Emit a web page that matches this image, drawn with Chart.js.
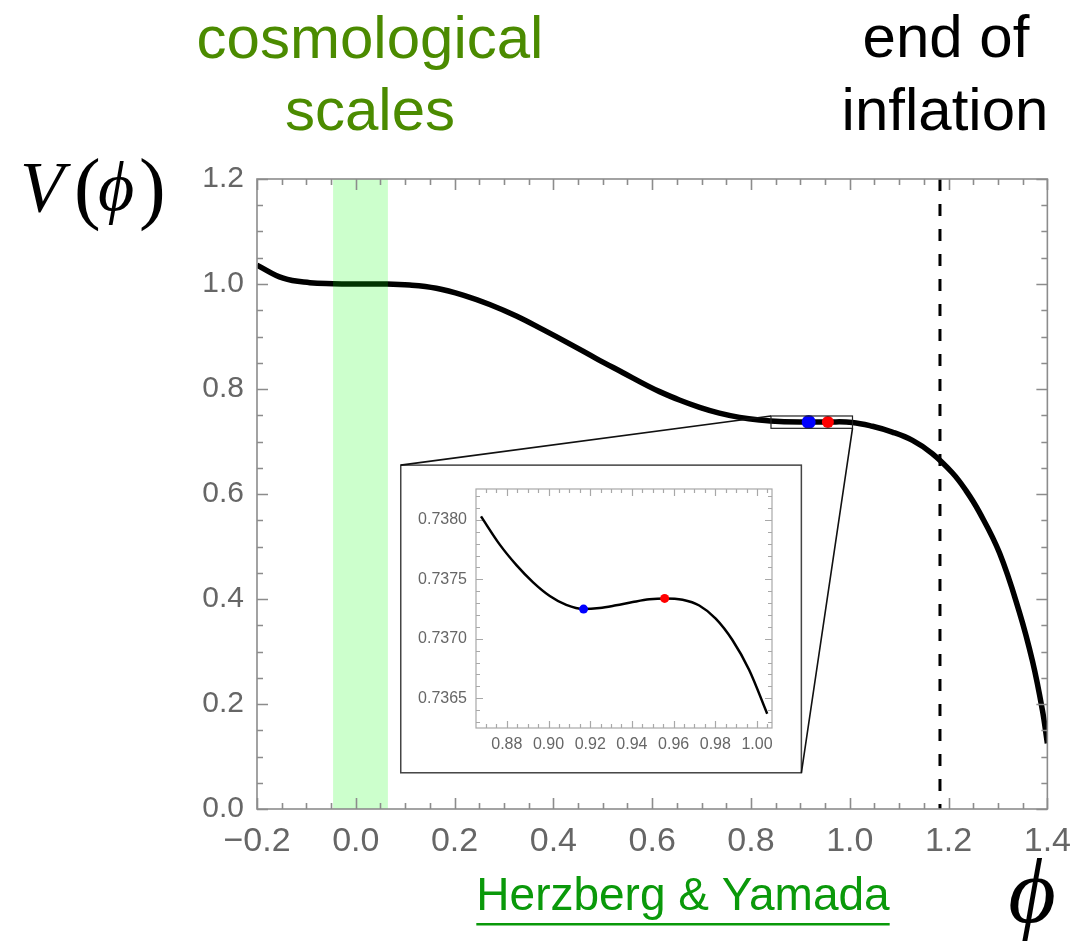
<!DOCTYPE html>
<html>
<head>
<meta charset="utf-8">
<script src="https://cdn.jsdelivr.net/npm/chart.js@4.4.0/dist/chart.umd.min.js"></script>
<style>
  html, body { margin: 0; padding: 0; background: #fff; }
  #wrap { position: relative; width: 1083px; height: 945px; overflow: hidden; }
  #main { position: absolute; left: 0; top: 0; }
  #inset { position: absolute; }
</style>
</head>
<body>
<div id="wrap">
  <canvas id="main" width="1083" height="945"></canvas>
  <canvas id="inset"></canvas>
</div>
<script>
// potential V(phi), full range
var phi = [-0.2, -0.147, -0.093, -0.046, 0.0, 0.055, 0.109, 0.163, 0.217, 0.271, 0.325, 0.379,
  0.433, 0.487, 0.541, 0.591, 0.615, 0.655, 0.696, 0.736, 0.777, 0.817, 0.858, 0.918, 0.955,
  1.005, 1.046, 1.086, 1.127, 1.167, 1.208, 1.235, 1.262, 1.303, 1.343, 1.370, 1.390, 1.400];
var potential = [1.036, 1.011, 1.0025, 1.0006, 1.0, 1.0, 0.998, 0.992, 0.979, 0.961, 0.939, 0.913,
  0.886, 0.858, 0.831, 0.806, 0.795, 0.779, 0.765, 0.754, 0.746, 0.741, 0.738, 0.7373, 0.7373,
  0.7364, 0.729, 0.718, 0.702, 0.677, 0.640, 0.607, 0.566, 0.488, 0.376, 0.281, 0.188, 0.125];

// zoomed-in part near the inflection point
var insetPhi = [0.8676, 0.8767, 0.8846, 0.8926, 0.9006, 0.9085, 0.9168, 0.9245, 0.9324, 0.9404,
  0.9484, 0.9557, 0.9643, 0.9723, 0.9802, 0.9882, 0.9962, 1.0049];
var insetPotential = [0.73803, 0.73779, 0.73762, 0.737475, 0.73736, 0.737285, 0.73725, 0.737259,
  0.737282, 0.737309, 0.737332, 0.73734, 0.737328, 0.73728, 0.73717, 0.73699, 0.73674, 0.73637];

// local minimum (blue) and local maximum (red)
var minimumPoint = { phi: 0.9168, v: 0.73725 };
var maximumPoint = { phi: 0.9557, v: 0.73734 };

var endOfInflation = 1.1826;
var cosmologicalScales = [-0.046, 0.065];

var xTicks = [-0.2, 0.0, 0.2, 0.4, 0.6, 0.8, 1.0, 1.2, 1.4];
var yTicks = [0.0, 0.2, 0.4, 0.6, 0.8, 1.0, 1.2];
var insetXTicks = [0.88, 0.90, 0.92, 0.94, 0.96, 0.98, 1.00];
var insetYTicks = [0.7365, 0.7370, 0.7375, 0.7380];

// zoom window marked on the main plot, and where the inset box sits (main axes units)
var zoomWindow = { x0: 0.8405, x1: 1.0055, y0: 0.7251, y1: 0.7486 };
var insetBox = { x0: 0.091, x1: 0.902, y0: 0.655, y1: 0.069 };

var GRAY = '#666666';
var SANS = '"Liberation Sans", Arial, sans-serif';
var SERIF = '"Liberation Serif", "DejaVu Serif", serif';

function pairs(xs, ys) {
  return xs.map(function (x, i) { return { x: x, y: ys[i] }; });
}

function fixedTicks(values) {
  return function (scale) {
    scale.ticks = values.map(function (v) { return { value: v }; });
  };
}

function steps(min, max, step) {
  var out = [];
  for (var k = Math.ceil(min / step - 1e-9); k * step <= max + 1e-9; k++) out.push(k * step);
  return out;
}

// Mathematica-style frame: box with inward major/minor ticks on all four sides
function drawFrame(chart, o) {
  var ctx = chart.ctx, a = chart.chartArea, xs = chart.scales.x, ys = chart.scales.y;
  ctx.save();
  ctx.strokeStyle = o.color;
  ctx.lineWidth = o.width;
  ctx.strokeRect(a.left, a.top, a.right - a.left, a.bottom - a.top);
  ctx.beginPath();
  steps(xs.min, xs.max, o.xMinor).forEach(function (v) {
    var r = v / o.xMajor, len = Math.abs(r - Math.round(r)) < 1e-4 ? o.major : o.minor;
    var px = Math.round(xs.getPixelForValue(v)) + 0.5;
    ctx.moveTo(px, a.bottom); ctx.lineTo(px, a.bottom - len);
    ctx.moveTo(px, a.top); ctx.lineTo(px, a.top + len);
  });
  steps(ys.min, ys.max, o.yMinor).forEach(function (v) {
    var r = v / o.yMajor, len = Math.abs(r - Math.round(r)) < 1e-4 ? o.major : o.minor;
    var py = Math.round(ys.getPixelForValue(v)) + 0.5;
    ctx.moveTo(a.left, py); ctx.lineTo(a.left + len, py);
    ctx.moveTo(a.right, py); ctx.lineTo(a.right - len, py);
  });
  ctx.stroke();
  ctx.restore();
}

var mainDecor = {
  id: 'mainDecor',
  afterDatasetsDraw: function (chart) {
    var ctx = chart.ctx, a = chart.chartArea, xs = chart.scales.x, ys = chart.scales.y;
    ctx.save();
    // shaded band for the cosmological scales, laid over the curve
    var b0 = xs.getPixelForValue(cosmologicalScales[0]);
    var b1 = xs.getPixelForValue(cosmologicalScales[1]);
    ctx.fillStyle = 'rgba(0, 255, 0, 0.2)';
    ctx.fillRect(b0, a.top, b1 - b0, a.bottom - a.top);

    // zoom window
    var zx0 = xs.getPixelForValue(zoomWindow.x0), zx1 = xs.getPixelForValue(zoomWindow.x1);
    var zy0 = ys.getPixelForValue(zoomWindow.y0), zy1 = ys.getPixelForValue(zoomWindow.y1);
    ctx.strokeStyle = '#222';
    ctx.lineWidth = 1.2;
    ctx.strokeRect(zx0, zy1, zx1 - zx0, zy0 - zy1);

    // inset box and its connectors
    var ix0 = xs.getPixelForValue(insetBox.x0), ix1 = xs.getPixelForValue(insetBox.x1);
    var iy0 = ys.getPixelForValue(insetBox.y0), iy1 = ys.getPixelForValue(insetBox.y1);
    ctx.fillStyle = '#fff';
    ctx.fillRect(ix0, iy0, ix1 - ix0, iy1 - iy0);
    ctx.strokeStyle = '#444';
    ctx.lineWidth = 1.5;
    ctx.strokeRect(ix0, iy0, ix1 - ix0, iy1 - iy0);
    ctx.strokeStyle = '#111';
    ctx.lineWidth = 1.6;
    ctx.beginPath();
    ctx.moveTo(ix0, iy0); ctx.lineTo(zx0, zy1);
    ctx.moveTo(ix1, iy1); ctx.lineTo(zx1, zy0);
    ctx.stroke();
    ctx.restore();

    drawFrame(chart, { color: '#8c8c8c', width: 1.6, major: 11, minor: 6,
      xMajor: 0.2, xMinor: 0.05, yMajor: 0.2, yMinor: 0.05 });
  },
  afterDraw: function (chart) {
    var ctx = chart.ctx;
    ctx.save();
    ctx.textAlign = 'center';
    ctx.textBaseline = 'alphabetic';
    ctx.font = '60px ' + SANS;
    ctx.fillStyle = '#4b8b00';
    ctx.fillText('cosmological', 370, 58);
    ctx.fillText('scales', 370, 130);
    ctx.fillStyle = '#000';
    ctx.fillText('end of', 946, 57);
    ctx.fillText('inflation', 945, 130);

    // V(ϕ) axis label
    ctx.textAlign = 'left';
    ctx.font = 'italic 72px ' + SERIF;
    ctx.fillText('V', 20, 211);
    ctx.font = '80px ' + SERIF;
    ctx.fillText('(', 74, 214);
    ctx.fillText(')', 139, 214);
    ctx.font = 'italic 70px ' + SERIF;
    ctx.fillText('\u03D5', 98, 210);

    // ϕ axis label
    ctx.textAlign = 'center';
    ctx.font = 'italic 92px ' + SERIF;
    ctx.fillText('\u03D5', 1032, 922);

    // citation, underlined
    ctx.font = '46px ' + SANS;
    ctx.fillStyle = '#0a990a';
    var cite = 'Herzberg & Yamada';
    var w = ctx.measureText(cite).width;
    ctx.fillText(cite, 683, 910);
    ctx.fillRect(683 - w / 2, 923, w, 2.5);
    ctx.restore();
  }
};

var mainChart = new Chart(document.getElementById('main'), {
  type: 'line',
  data: {
    datasets: [
      {
        data: pairs(phi, potential),
        borderColor: '#000',
        borderWidth: 5.5,
        pointRadius: 0,
        tension: 0.4,
        order: 3
      },
      {
        data: [{ x: endOfInflation, y: 1.2 }, { x: endOfInflation, y: 0 }],
        borderColor: '#000',
        borderWidth: 3,
        borderDash: [12, 13],
        pointRadius: 0,
        order: 2
      },
      {
        data: [{ x: minimumPoint.phi, y: minimumPoint.v }],
        showLine: false,
        pointRadius: 7,
        pointBackgroundColor: '#0000ff',
        pointBorderWidth: 0,
        order: 1
      },
      {
        data: [{ x: maximumPoint.phi, y: maximumPoint.v }],
        showLine: false,
        pointRadius: 6,
        pointBackgroundColor: '#ff0000',
        pointBorderWidth: 0,
        order: 0
      }
    ]
  },
  options: {
    responsive: false,
    animation: false,
    devicePixelRatio: 1,
    layout: { padding: { left: 0, top: 179, right: 35, bottom: 0 } },
    plugins: { legend: { display: false }, tooltip: { enabled: false } },
    scales: {
      x: {
        type: 'linear', min: -0.2, max: 1.4,
        afterBuildTicks: fixedTicks(xTicks),
        afterFit: function (s) { s.height = 136; },
        grid: { display: false, drawTicks: false },
        border: { display: false },
        ticks: {
          padding: 12, color: GRAY, maxRotation: 0, autoSkip: false,
          font: { family: SANS, size: 34 },
          callback: function (v) { return (v < -1e-9 ? '\u2212' : '') + Math.abs(v).toFixed(1); }
        }
      },
      y: {
        type: 'linear', min: 0, max: 1.2,
        afterBuildTicks: fixedTicks(yTicks),
        afterFit: function (s) { s.width = 257; },
        grid: { display: false, drawTicks: false },
        border: { display: false },
        ticks: {
          padding: 13, color: GRAY, autoSkip: false,
          font: { family: SANS, size: 30 },
          callback: function (v) { return v.toFixed(1); }
        }
      }
    }
  },
  plugins: [mainDecor]
});

// place the inset canvas over the box drawn on the main chart
var mx = mainChart.scales.x, my = mainChart.scales.y;
var boxLeft = Math.round(mx.getPixelForValue(insetBox.x0));
var boxTop = Math.round(my.getPixelForValue(insetBox.y0));
var boxWidth = Math.round(mx.getPixelForValue(insetBox.x1)) - boxLeft;
var boxHeight = Math.round(my.getPixelForValue(insetBox.y1)) - boxTop;
var insetCanvas = document.getElementById('inset');
insetCanvas.width = boxWidth;
insetCanvas.height = boxHeight;
insetCanvas.style.left = boxLeft + 'px';
insetCanvas.style.top = boxTop + 'px';

var insetFrame = {
  id: 'insetFrame',
  beforeDatasetsDraw: function (chart) {
    drawFrame(chart, { color: '#a8a8a8', width: 1.2, major: 7, minor: 4,
      xMajor: 0.02, xMinor: 0.005, yMajor: 0.0005, yMinor: 0.0001 });
  }
};

new Chart(insetCanvas, {
  type: 'line',
  data: {
    datasets: [
      {
        data: pairs(insetPhi, insetPotential),
        borderColor: '#000',
        borderWidth: 2.5,
        pointRadius: 0,
        cubicInterpolationMode: 'monotone',
        order: 2
      },
      {
        data: [{ x: minimumPoint.phi, y: minimumPoint.v }],
        showLine: false,
        pointRadius: 4.5,
        pointBackgroundColor: '#0000ff',
        pointBorderWidth: 0,
        order: 1
      },
      {
        data: [{ x: maximumPoint.phi, y: maximumPoint.v }],
        showLine: false,
        pointRadius: 4.5,
        pointBackgroundColor: '#ff0000',
        pointBorderWidth: 0,
        order: 0
      }
    ]
  },
  options: {
    responsive: false,
    animation: false,
    devicePixelRatio: 1,
    layout: { padding: { left: 0, top: 24, right: 29, bottom: 0 } },
    plugins: { legend: { display: false }, tooltip: { enabled: false } },
    scales: {
      x: {
        type: 'linear', min: 0.8652, max: 1.0072,
        afterBuildTicks: fixedTicks(insetXTicks),
        afterFit: function (s) { s.height = 45; },
        grid: { display: false, drawTicks: false },
        border: { display: false },
        ticks: {
          padding: 7, color: GRAY, maxRotation: 0, autoSkip: false,
          font: { family: SANS, size: 16 },
          callback: function (v) { return v.toFixed(2); }
        }
      },
      y: {
        type: 'linear', min: 0.73625, max: 0.73826,
        afterBuildTicks: fixedTicks(insetYTicks),
        afterFit: function (s) { s.width = 75; },
        grid: { display: false, drawTicks: false },
        border: { display: false },
        ticks: {
          padding: 9, color: GRAY, autoSkip: false,
          font: { family: SANS, size: 16 },
          callback: function (v) { return v.toFixed(4); }
        }
      }
    }
  },
  plugins: [insetFrame]
});
</script>
</body>
</html>
